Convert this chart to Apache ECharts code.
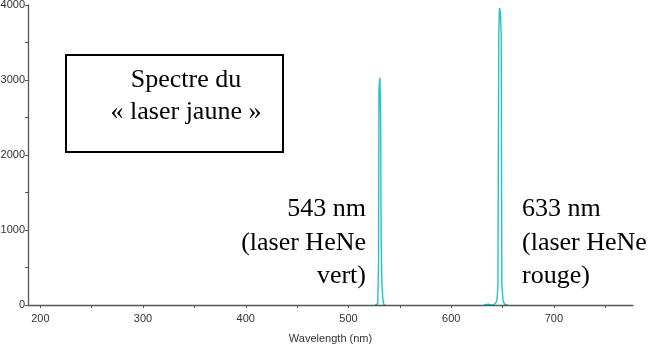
<!DOCTYPE html>
<html>
<head>
<meta charset="utf-8">
<script src="https://cdn.jsdelivr.net/npm/echarts@6/dist/echarts.min.js"></script>
<style>html,body{margin:0;padding:0;background:#fff}#c{width:660px;height:344px}</style>
</head>
<body>
<div id="c"></div>
<script>
// Data (wavelength nm, counts)
const greenPeak = [[526,0],[527,0],[528.5,15],[529.3,600],[529.7,2900],[530.6,3030],[531.3,2500],[531.8,900],[532.5,300],[533.5,70],[534.5,0],[536,0]];
const redPeak = [[632,0],[633,5],[636,12],[638,5],[641,0],[643,20],[644.5,60],[645.5,230],[646.3,3600],[647,3960],[648,3900],[648.7,3600],[649.3,260],[650.5,60],[652,10],[653,0],[655,0]];
const xLabels = [200,300,400,500,600,700];
const xTicks = [200,250,300,350,400,450,500,550,600,650,700,750];
const yMin = 0, yMax = 4000, yInterval = 1000;
const boxTitle = ['Spectre du', '« laser jaune »'];
const greenNote = ['543 nm', '(laser HeNe', 'vert)'];
const redNote = ['633 nm', '(laser HeNe', 'rouge)'];

const chart = echarts.init(document.getElementById('c'));
const lineColor = '#22c3c6';
const serifFont = '"Liberation Serif","Times New Roman",serif';
const sansFont = '"Liberation Sans",Arial,sans-serif';
const axisColor = '#555';
function mk(data){return {type:'line',data:data,symbol:'none',z:1,lineStyle:{color:lineColor,width:1.4},animation:false};}

chart.setOption({
  animation:false,
  grid:{left:28,right:27,top:5,bottom:39,containLabel:false,outerBoundsMode:'none'},
  xAxis:{
    type:'value',min:188,max:777,z:5,
    name:'Wavelength (nm)',nameLocation:'middle',nameGap:28,
    nameTextStyle:{fontFamily:sansFont,fontSize:11,color:'#333'},
    axisLine:{lineStyle:{color:axisColor,width:1.3}},
    axisTick:{customValues:xTicks,length:3,lineStyle:{color:axisColor}},
    axisLabel:{customValues:xLabels,fontFamily:sansFont,fontSize:11,color:'#333',margin:8},
    splitLine:{show:false}
  },
  yAxis:{
    type:'value',min:yMin,max:yMax,interval:yInterval,
    axisLine:{show:true,lineStyle:{color:axisColor,width:1.3}},
    axisTick:{show:true,length:3,lineStyle:{color:axisColor}},
    minorTick:{show:true,splitNumber:2,length:3,lineStyle:{color:axisColor}},
    axisLabel:{fontFamily:sansFont,fontSize:11,color:'#333',margin:3,formatter:function(v){return String(v);}},
    splitLine:{show:false}
  },
  series:[mk(greenPeak),mk(redPeak)],
  graphic:[
    {type:'rect',left:65,top:54,shape:{width:217,height:97},style:{fill:'#fff',stroke:'#000',lineWidth:2},z:10},
    {type:'text',x:186,y:80,style:{text:boxTitle[0],font:'26px '+serifFont,fill:'#000',align:'center',verticalAlign:'middle'},z:11},
    {type:'text',x:186,y:112,style:{text:boxTitle[1],font:'26px '+serifFont,fill:'#000',align:'center',verticalAlign:'middle'},z:11},
    {type:'text',x:366,y:209,style:{text:greenNote[0],font:'26px '+serifFont,fill:'#000',align:'right',verticalAlign:'middle'},z:11},
    {type:'text',x:366,y:243,style:{text:greenNote[1],font:'26px '+serifFont,fill:'#000',align:'right',verticalAlign:'middle'},z:11},
    {type:'text',x:366,y:276,style:{text:greenNote[2],font:'26px '+serifFont,fill:'#000',align:'right',verticalAlign:'middle'},z:11},
    {type:'text',x:522,y:209,style:{text:redNote[0],font:'26px '+serifFont,fill:'#000',align:'left',verticalAlign:'middle'},z:11},
    {type:'text',x:522,y:243,style:{text:redNote[1],font:'26px '+serifFont,fill:'#000',align:'left',verticalAlign:'middle'},z:11},
    {type:'text',x:522,y:276,style:{text:redNote[2],font:'26px '+serifFont,fill:'#000',align:'left',verticalAlign:'middle'},z:11}
  ]
});
</script>
</body>
</html>
